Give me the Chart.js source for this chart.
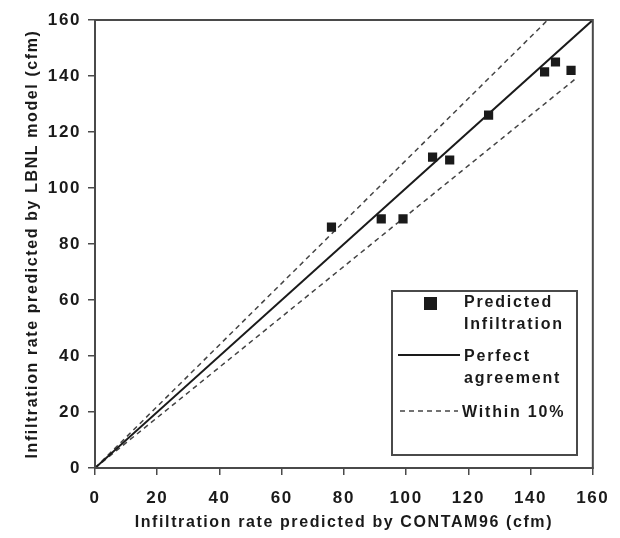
<!DOCTYPE html>
<html>
<head>
<meta charset="utf-8">
<script src="https://cdn.jsdelivr.net/npm/chart.js@4.4.1/dist/chart.umd.min.js"></script>
<style>
  html, body { margin: 0; padding: 0; background: #fff; }
  #wrap { width: 620px; height: 538px; }
</style>
</head>
<body>
<div id="wrap"><canvas id="infChart" width="620" height="538"></canvas></div>
<script>
// measured points (cfm)
const contam96 = [76, 92, 99, 108.5, 114, 126.5, 144.5, 148, 153];
const lbnlModel = [86, 89, 89, 111, 110, 126, 141.5, 145, 142];

// reference lines, end points
const perfectX = [0, 160], perfectY = [0, 160];
const upperX = [0, 145.5], upperY = [0, 160];
const lowerX = [0, 155], lowerY = [0, 139.5];

const tickValues = [0, 20, 40, 60, 80, 100, 120, 140, 160];

const toPts = (xs, ys) => xs.map((x, i) => ({x: x, y: ys[i]}));

const ink = '#1a1a1a';
const axisGray = '#4a4a4a';
const boldFont = {family: "'Liberation Sans', Arial, sans-serif", weight: 'bold'};

// letter spacing like the scanned print
const spacing = {
  id: 'spacing',
  beforeDraw(chart) { chart.ctx.letterSpacing = '1.6px'; }
};

// frame around the plot
const frame = {
  id: 'frame',
  afterDatasetsDraw(chart) {
    const {ctx, chartArea: a} = chart;
    ctx.save();
    ctx.strokeStyle = axisGray;
    ctx.lineWidth = 2;
    ctx.strokeRect(a.left, a.top, a.right - a.left, a.bottom - a.top);
    ctx.restore();
  }
};

// boxed legend in the lower right
const boxLegend = {
  id: 'boxLegend',
  afterDraw(chart) {
    const {ctx, chartArea: a} = chart;
    const x0 = a.left + 297, y0 = a.top + 271;
    ctx.save();
    ctx.fillStyle = '#fff';
    ctx.fillRect(x0, y0, 185, 164);
    ctx.strokeStyle = axisGray;
    ctx.lineWidth = 2;
    ctx.strokeRect(x0, y0, 185, 164);

    ctx.fillStyle = ink;
    ctx.fillRect(x0 + 32, y0 + 6, 13, 13);

    ctx.strokeStyle = ink;
    ctx.lineWidth = 2;
    ctx.beginPath();
    ctx.moveTo(x0 + 6, y0 + 64);
    ctx.lineTo(x0 + 68, y0 + 64);
    ctx.stroke();

    ctx.strokeStyle = '#444';
    ctx.lineWidth = 1.5;
    ctx.setLineDash([5, 4]);
    ctx.beginPath();
    ctx.moveTo(x0 + 8, y0 + 120);
    ctx.lineTo(x0 + 66, y0 + 120);
    ctx.stroke();
    ctx.setLineDash([]);

    ctx.letterSpacing = '1.8px';
    ctx.font = "bold 16px 'Liberation Sans', Arial, sans-serif";
    ctx.textBaseline = 'middle';
    ctx.textAlign = 'left';
    ctx.fillText('Predicted', x0 + 72, y0 + 12);
    ctx.fillText('Infiltration', x0 + 72, y0 + 34);
    ctx.fillText('Perfect', x0 + 72, y0 + 66);
    ctx.fillText('agreement', x0 + 72, y0 + 88);
    ctx.fillText('Within 10%', x0 + 70, y0 + 122);
    ctx.restore();
  }
};

const ctx = document.getElementById('infChart').getContext('2d');
const infChart = new Chart(ctx, {
  type: 'scatter',
  data: {
    datasets: [
      {
        label: 'Predicted Infiltration',
        data: toPts(contam96, lbnlModel),
        pointStyle: 'rect',
        pointRadius: 6.5,
        pointHoverRadius: 6.5,
        backgroundColor: ink,
        borderColor: ink,
        borderWidth: 0,
        order: 0
      },
      {
        label: 'Perfect agreement',
        type: 'line',
        data: toPts(perfectX, perfectY),
        borderColor: ink,
        borderWidth: 2,
        pointRadius: 0,
        fill: false,
        order: 1
      },
      {
        label: 'Within 10%',
        type: 'line',
        data: toPts(upperX, upperY),
        borderColor: '#444',
        borderWidth: 1.5,
        borderDash: [5, 4],
        pointRadius: 0,
        fill: false,
        order: 2
      },
      {
        label: 'Within 10% (low)',
        type: 'line',
        data: toPts(lowerX, lowerY),
        borderColor: '#444',
        borderWidth: 1.5,
        borderDash: [5, 4],
        pointRadius: 0,
        fill: false,
        order: 2
      }
    ]
  },
  options: {
    responsive: false,
    animation: false,
    layout: { padding: { top: 20, right: 27, left: 0, bottom: 0 } },
    plugins: {
      legend: { display: false },
      tooltip: { enabled: false }
    },
    scales: {
      x: {
        type: 'linear',
        min: 0, max: 160,
        afterBuildTicks: s => { s.ticks = tickValues.map(v => ({value: v})); },
        afterFit: s => { s.height = 70; },
        grid: { drawOnChartArea: false, drawTicks: true, tickLength: 7, color: axisGray, lineWidth: 1.5 },
        border: { color: axisGray, width: 2 },
        ticks: { color: ink, padding: 13, maxRotation: 0, font: Object.assign({size: 17}, boldFont) },
        title: {
          display: true,
          text: 'Infiltration rate predicted by CONTAM96 (cfm)',
          color: ink,
          font: Object.assign({size: 16}, boldFont),
          padding: { top: 0, bottom: 6 }
        }
      },
      y: {
        type: 'linear',
        min: 0, max: 160,
        afterBuildTicks: s => { s.ticks = tickValues.map(v => ({value: v})); },
        afterFit: s => { s.width = 95; },
        grid: { drawOnChartArea: false, drawTicks: true, tickLength: 7, color: axisGray, lineWidth: 1.5 },
        border: { color: axisGray, width: 2 },
        ticks: { color: ink, padding: 7, font: Object.assign({size: 17}, boldFont) },
        title: {
          display: true,
          text: 'Infiltration rate predicted by LBNL model (cfm)',
          color: ink,
          font: Object.assign({size: 16}, boldFont),
          padding: { top: 23, bottom: 0 }
        }
      }
    }
  },
  plugins: [spacing, frame, boxLegend]
});
</script>
</body>
</html>
